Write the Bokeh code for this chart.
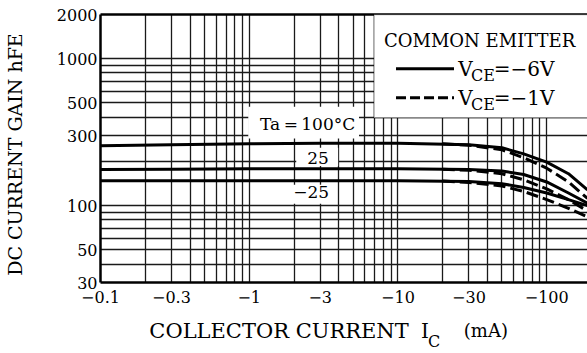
from bokeh.plotting import figure
from bokeh.layouts import column
from bokeh.models import FixedTicker, LogAxis, Label, BoxAnnotation
from bokeh.embed import file_html
from bokeh.resources import INLINE

# Collector current magnitude (mA) and DC current gain hFE
ic = [0.1, 0.3, 1, 3, 10, 30, 50, 70, 100, 140, 188]
hfe_100_6v = [256, 260, 264, 266, 266, 260, 248, 225, 198, 165, 128]
hfe_25_6v = [176, 177, 178, 178, 178, 176, 172, 163, 145, 122, 104]
hfe_m25_6v = [148, 148, 148, 148, 148, 146, 141, 133, 122, 110, 100]

ic_1v = [20, 30, 50, 70, 100, 140, 188]
hfe_100_1v = [264, 258, 240, 212, 180, 145, 112]
hfe_25_1v = [177, 174, 165, 150, 130, 110, 92]
hfe_m25_1v = [147, 144, 136, 125, 110, 96, 84]

x_ticks = [0.1, 0.3, 1, 3, 10, 30, 100]
x_tick_labels = ["\u22120.1", "\u22120.3", "\u22121", "\u22123", "\u221210", "\u221230", "\u2212100"]
y_ticks = [30, 50, 100, 300, 500, 1000, 2000]
y_tick_labels = ["30", "50", "100", "300", "500", "1000", "2000"]

# log-paper grid: every 1..9 step of each decade
x_grid = [k * 10.0 ** n for n in range(-1, 3) for k in range(1, 10) if 0.1 < k * 10.0 ** n < 188]
y_grid = [40, 50, 60, 70, 80, 90, 100, 200, 300, 400, 500, 600, 700, 800, 900, 1000]

SERIF = "DejaVu Serif"

p = figure(width=587, height=314, x_axis_type="log", y_axis_type="log",
           x_range=(0.1, 188), y_range=(30, 2000),
           min_border_left=99, min_border_right=0, min_border_top=14, min_border_bottom=32,
           output_backend="svg", toolbar_location=None)
p.outline_line_color = None
p.background_fill_color = "white"
p.border_fill_color = "white"

for g, t in ((p.xgrid, x_grid), (p.ygrid, y_grid)):
    g.ticker = FixedTicker(ticks=t)
    g.grid_line_color = "#1a1a1a"
    g.grid_line_width = 1.3

xa = p.xaxis[0]
xa.ticker = FixedTicker(ticks=x_ticks)
xa.major_label_overrides = dict(zip(x_ticks, x_tick_labels))
xa.major_label_standoff = 8
ya = p.yaxis[0]
ya.ticker = FixedTicker(ticks=y_ticks)
ya.major_label_overrides = dict(zip(y_ticks, y_tick_labels))
ya.major_label_standoff = 3
ya.axis_label = "DC CURRENT GAIN   hFE"
ya.axis_label_standoff = 28
ya.axis_label_text_font = SERIF
ya.axis_label_text_font_size = "19px"
ya.axis_label_text_font_style = "normal"
ya.axis_label_text_color = "black"

top = LogAxis(ticker=FixedTicker(ticks=[]), major_label_text_font_size="0px")
p.add_layout(top, "above")

for ax in (xa, ya, top):
    ax.axis_line_width = 2.5
    ax.axis_line_color = "black"
    ax.major_tick_line_color = None
    ax.minor_tick_line_color = None
    ax.major_tick_out = 0
    ax.major_label_text_font = SERIF
    ax.major_label_text_font_size = "16px"
    ax.major_label_text_color = "black"

# VCE = -6 V (solid) and VCE = -1 V (dashed)
for ys in (hfe_100_6v, hfe_25_6v, hfe_m25_6v):
    p.line(ic, ys, line_color="black", line_width=3)
for ys in (hfe_100_1v, hfe_25_1v, hfe_m25_1v):
    p.line(ic_1v, ys, line_color="black", line_width=3, line_dash="12 5")

# white panels behind the temperature labels
for l, r, b, t in ((0.985, 5.47, 286, 471), (2.07, 3.96, 186, 248), (1.83, 3.78, 103, 139)):
    p.add_layout(BoxAnnotation(left=l, right=r, bottom=b, top=t, fill_color="white",
                               fill_alpha=1, line_color=None))

# legend panel
p.add_layout(BoxAnnotation(left=6.9, right=400, bottom=397, top=2000, fill_color="white",
                           fill_alpha=1, line_color="black", line_width=1.6))


def label(fig, x, y, text, size, align="center"):
    fig.add_layout(Label(x=x, y=y, text=text, text_font=SERIF, text_font_size=size,
                         text_align=align, text_baseline="middle", text_color="black"))


label(p, 2.47, 358, "Ta\u2009=\u2009100\u00b0C", "17px")
label(p, 2.90, 212, "25", "17px")
label(p, 2.61, 123, "\u221225", "17px")

label(p, 8.05, 1326, "COMMON EMITTER", "18px", "left")
solid_key = p.line([9.7, 23.8], [855, 855], line_color="black", line_width=3)
dash_key = p.line([9.7, 23.8], [543, 543], line_color="black", line_width=3, line_dash="10 4")
solid_key.level = "overlay"
dash_key.level = "overlay"
for yv, ys, txt in ((855, 770, "=\u22126V"), (543, 490, "=\u22121V")):
    label(p, 25.4, yv, "V", "20px", "left")
    label(p, 31.0, ys, "CE", "16px", "left")
    label(p, 44.0, yv, txt, "20px", "left")

# x-axis title strip (shares the current axis so the subscript sits beside "I")
t = figure(width=587, height=39, x_axis_type="log", x_range=p.x_range, y_range=(0, 39),
           x_axis_location=None, y_axis_location=None,
           min_border_left=99, min_border_right=0, min_border_top=0, min_border_bottom=0,
           output_backend="svg", toolbar_location=None)
t.outline_line_color = None
t.grid.visible = False
label(t, 0.213, 23, "COLLECTOR CURRENT", "21px", "left")
label(t, 14.3, 23, "I", "20px", "left")
label(t, 15.9, 12, "C", "16px", "left")
label(t, 27.7, 23, "(mA)", "18px", "left")

layout = column(p, t, spacing=0)
open("out.html", "w").write(file_html(layout, INLINE))
